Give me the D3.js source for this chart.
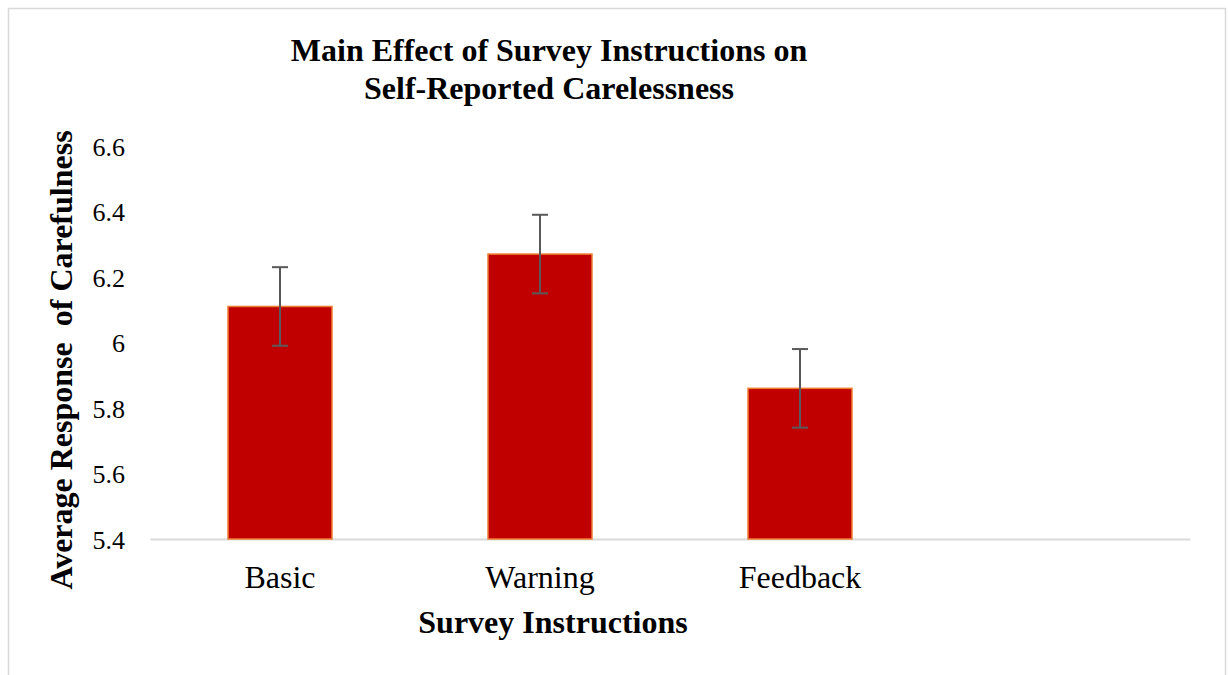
<!DOCTYPE html>
<html>
<head>
<meta charset="utf-8">
<script src="https://cdn.jsdelivr.net/npm/d3@7"></script>
<style>
  body { margin: 0; background: #fff; }
  text { font-family: "Liberation Serif", "Times New Roman", serif; fill: #000; }
</style>
</head>
<body>
<div id="chart"></div>
<script>
// chart values
var categories = ["Basic", "Warning", "Feedback", ""]   // excel left an empty 4th slot
var means = [6.11, 6.27, 5.86]
var errors = [0.12, 0.12, 0.12]
var yTicks = [5.4, 5.6, 5.8, 6, 6.2, 6.4, 6.6]

var width = 1228, height = 675
var margin = {top: 146, right: 38, bottom: 136, left: 150}

var svg = d3.select("#chart").append("svg")
  .attr("width", width)
  .attr("height", height)

// outer frame
svg.append("rect")
  .attr("x", 8.5).attr("y", 8.5)
  .attr("width", 1217).attr("height", 700)
  .style("fill", "none")
  .style("stroke", "#d9d9d9")
  .style("stroke-width", 1.5)

var x = d3.scaleBand()
  .domain(d3.range(categories.length))
  .range([margin.left, width - margin.right])
  .paddingInner(0.6)
  .paddingOuter(0.3)

var y = d3.scaleLinear()
  .domain([5.4, 6.6])
  .range([height - margin.bottom, margin.top])

// y axis labels only, no line
var yAxis = svg.append("g")
  .attr("transform", `translate(${margin.left - 25},0)`)
  .call(d3.axisLeft(y).tickValues(yTicks).tickSize(0).tickPadding(0).tickFormat(d3.format("")))
yAxis.select(".domain").remove()
yAxis.selectAll("text")
  .style("font-size", "26px")
  .style("font-family", "'Liberation Serif', serif")
  .attr("text-anchor", "end")
  .attr("dy", "0.35em")

// x axis
var xAxis = svg.append("g")
  .attr("transform", `translate(0,${height - margin.bottom})`)
  .call(d3.axisBottom(x).tickSize(0).tickPadding(26).tickFormat(i => categories[i]))
xAxis.select(".domain")
  .style("stroke", "#d9d9d9")
  .style("stroke-width", 2)
xAxis.selectAll("text")
  .style("font-size", "32px")
  .style("font-family", "'Liberation Serif', serif")

// bars
svg.append("g").selectAll("rect")
  .data(means)
  .enter()
  .append("rect")
  .attr("x", (d, i) => x(i))
  .attr("y", d => y(d))
  .attr("width", x.bandwidth())
  .attr("height", d => y(5.4) - y(d))
  .style("fill", "#c00000")
  .style("stroke", "#ed7d31")
  .style("stroke-width", 1.5)

// error bars
var errG = svg.append("g")
  .style("stroke", "#595959")
  .style("stroke-width", 2)
means.forEach(function(d, i) {
  var cx = x(i) + x.bandwidth() / 2
  errG.append("line")
    .attr("x1", cx).attr("x2", cx)
    .attr("y1", y(d + errors[i])).attr("y2", y(d - errors[i]))
  errG.append("line")
    .attr("x1", cx - 8).attr("x2", cx + 8)
    .attr("y1", y(d + errors[i])).attr("y2", y(d + errors[i]))
  errG.append("line")
    .attr("x1", cx - 8).attr("x2", cx + 8)
    .attr("y1", y(d - errors[i])).attr("y2", y(d - errors[i]))
})

// title
svg.append("text")
  .attr("x", 549).attr("y", 61)
  .attr("text-anchor", "middle")
  .style("font-size", "32px")
  .style("font-weight", "bold")
  .text("Main Effect of Survey Instructions on")
svg.append("text")
  .attr("x", 549).attr("y", 99)
  .attr("text-anchor", "middle")
  .style("font-size", "32px")
  .style("font-weight", "bold")
  .text("Self-Reported Carelessness")

// axis titles
svg.append("text")
  .attr("x", 553).attr("y", 633)
  .attr("text-anchor", "middle")
  .style("font-size", "32px")
  .style("font-weight", "bold")
  .text("Survey Instructions")

svg.append("text")
  .attr("transform", "translate(72,360) rotate(-90)")
  .attr("text-anchor", "middle")
  .style("font-size", "32px")
  .style("font-weight", "bold")
  .style("white-space", "pre")
  .text("Average Response  of Carefulness")
</script>
</body>
</html>
